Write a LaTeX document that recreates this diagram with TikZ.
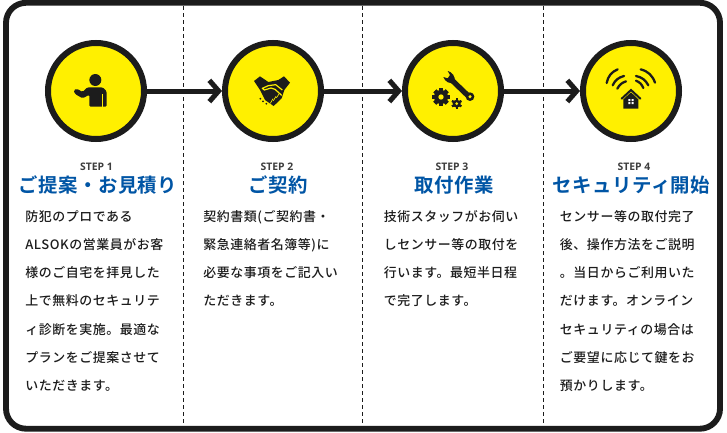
\documentclass[tikz,border=0pt]{standalone}
\usepackage{fontspec}
\usetikzlibrary{arrows.meta}
\setmainfont{Noto Sans CJK JP}
\newfontfamily\bodyjp[LetterSpace=4.5]{Noto Sans CJK JP Medium}
\newfontfamily\headjp[LetterSpace=2.5]{Noto Sans CJK JP Bold}
\newfontfamily\stepfont{Open Sans}
\definecolor{ink}{HTML}{1C1C1C}
\definecolor{sun}{HTML}{FFF000}
\definecolor{blue}{HTML}{0055A5}
\tikzset{
  badge/.style={circle,draw=ink,fill=sun,line width=4.5pt,minimum size=72pt,inner sep=0pt},
  flow/.style={draw=ink,line width=3.75pt,-{Straight Barb[length=7pt,width=16pt]}},
  divider/.style={draw=ink,line width=0.75pt,dash pattern=on 3pt off 2.25pt},
  frame/.style={draw=ink,line width=4.4pt,rounded corners=15pt},
  steplabel/.style={anchor=base,inner sep=0pt,text=ink!85!white,font={\stepfont\bfseries\fontsize{7.8pt}{9pt}\selectfont}},
  heading/.style={anchor=base,inner sep=0pt,text=blue,font={\headjp\fontsize{14.55pt}{16pt}\selectfont}},
  bodyline/.style={anchor=base west,inner sep=0pt,text=ink,font={\bodyjp\fontsize{9.7pt}{11pt}\selectfont}},
  icon/.style={x=0.25pt,y=-0.25pt},
  wave/.style={draw=ink,line width=1.7pt,line cap=round}
}
\begin{document}
\begin{tikzpicture}[x=0.75pt,y=-0.75pt]
\useasboundingbox (0,0) rectangle (727,432);
\fill[white] (0,0) rectangle (727,432);
% dividers
\coordinate (d1t) at (183.3,6); \coordinate (d1b) at (183.3,426);
\coordinate (d2t) at (362.7,6); \coordinate (d2b) at (362.7,426);
\coordinate (d3t) at (543.5,6); \coordinate (d3b) at (543.5,426);
\draw[divider] (d1t) -- (d1b);
\draw[divider] (d2t) -- (d2b);
\draw[divider] (d3t) -- (d3b);
% frame
\draw[frame] (6,2.8) rectangle (720,428.7);
% badges
\node[badge] (c1) at (96,91) {};
\node[badge] (c2) at (273,91) {};
\node[badge] (c3) at (453,91) {};
\node[badge] (c4) at (631,91) {};
\draw[flow] (c1) -- (c2);
\draw[flow] (c2) -- (c3);
\draw[flow] (c3) -- (c4);
% person
\begin{scope}[shift={(66,66)},icon]
\fill[ink] (88,42) circle (18);
\fill[ink,rounded corners=1pt] (70,122) -- (70,86) -- (50,97) -- (27,84) -- (23,73) -- (32,68) -- (50,78) -- (64,64) -- (110,64) -- (122,76) -- (122,122) -- cycle;
\draw[sun,line width=0.5pt] (108,84) -- (108,122);
\end{scope}
% handshake
\begin{scope}[shift={(245,66)},icon]
\fill[ink] (27,45) -- (45,31) -- (70,48) -- (100,42) -- (117,31) -- (135,50) -- (118,72) -- (110,97) -- (86,120) -- (60,102) -- (45,72) -- cycle;
\draw[sun,line width=0.9pt,line join=round] (112,72) -- (92,56) -- (70,59) -- (52,67) -- (58,72) -- (78,66) -- (90,70) -- (110,88);
\foreach \a in {0,1,2}
  \draw[sun,line width=0.5pt] ({76+9*\a},{112-8*\a}) -- ({84+9*\a},{98-7*\a});
\fill[ink] (46,98) circle (3) (54,106) circle (3) (64,113) circle (3);
\end{scope}
% wrench and gears
\begin{scope}[shift={(425,66)},icon]
\draw[ink,line width=4pt] (78,40) -- (128,88);
\fill[ink] (135,92) circle (13);
\fill[sun] (135,92) circle (5);
\fill[ink] (68,15) .. controls (80,17) and (92,30) .. (90,50) .. controls (75,55) and (60,48) .. (55,33) -- (68,37) -- (75,27) -- cycle;
\foreach \a in {0,45,...,315}
  \fill[ink,rotate around={\a:(48,93)}] (42,67) rectangle (54,119);
\fill[ink] (48,93) circle (21);
\fill[sun] (48,93) circle (8);
\foreach \a in {0,60,...,300}
  \fill[ink,rotate around={\a:(95,113)}] (92,97) rectangle (98,129);
\fill[ink] (95,113) circle (12);
\fill[sun] (95,113) circle (4.5);
\end{scope}
% house and signal
\begin{scope}[shift={(600,62)},icon]
\draw[wave] (20,63) to[bend left=28] (53,22);
\draw[wave] (38,70) to[bend left=25] (72,42);
\draw[wave] (52,80) to[bend left=22] (78,58);
\draw[wave] (122,22) to[bend left=28] (165,62);
\draw[wave] (108,42) to[bend left=25] (145,70);
\draw[wave] (108,56) to[bend left=22] (130,78);
\draw[ink,line width=1.5pt,line cap=round] (65,110) -- (93,84) -- (121,110);
\fill[ink] (70,140) -- (70,112) -- (93,91) -- (115,112) -- (115,140) -- cycle;
\fill[white] (85,111) rectangle (91,117) (95,111) rectangle (101,117) (85,120) rectangle (91,126) (95,120) rectangle (101,126);
\end{scope}
% step labels
\node[steplabel] (s1) at (96.5,170) {STEP 1};
\node[steplabel] (s2) at (277,170) {STEP 2};
\node[steplabel] (s3) at (452,170) {STEP 3};
\node[steplabel] (s4) at (634,170) {STEP 4};
% headings
\node[heading] (h1) at (98,192) {ご提案・お見積り};
\node[heading] (h2) at (278,192) {ご契約};
\node[heading] (h3) at (454.5,192) {取付作業};
\node[heading] (h4) at (631.5,192) {セキュリティ開始};
% body
\node[bodyline] (a1) at (25,221.5) {防犯のプロである};
\node[bodyline] (a2) at (25,249.7) {ALSOKの営業員がお客};
\node[bodyline] (a3) at (25,277.8) {様のご自宅を拝見した};
\node[bodyline] (a4) at (25,305.9) {上で無料のセキュリテ};
\node[bodyline] (a5) at (25,334) {ィ診断を実施。最適な};
\node[bodyline] (a6) at (25,362.1) {プランをご提案させて};
\node[bodyline] (a7) at (25,390.2) {いただきます。};
\node[bodyline] (b1) at (203,221.5) {契約書類(ご契約書・};
\node[bodyline] (b2) at (203,249.7) {緊急連絡者名簿等)に};
\node[bodyline] (b3) at (203,277.8) {必要な事項をご記入い};
\node[bodyline] (b4) at (203,305.9) {ただきます。};
\node[bodyline] (e1) at (383.5,221.5) {技術スタッフがお伺い};
\node[bodyline] (e2) at (383.5,249.7) {しセンサー等の取付を};
\node[bodyline] (e3) at (383.5,277.8) {行います。最短半日程};
\node[bodyline] (e4) at (383.5,305.9) {で完了します。};
\node[bodyline] (f1) at (559.7,221.5) {センサー等の取付完了};
\node[bodyline] (f2) at (559.7,249.7) {後、操作方法をご説明};
\node[bodyline] (f3) at (559.7,277.8) {。当日からご利用いた};
\node[bodyline] (f4) at (559.7,305.9) {だけます。オンライン};
\node[bodyline] (f5) at (559.7,334) {セキュリティの場合は};
\node[bodyline] (f6) at (559.7,362.1) {ご要望に応じて鍵をお};
\node[bodyline] (f7) at (559.7,390.2) {預かりします。};
\end{tikzpicture}
\end{document}
